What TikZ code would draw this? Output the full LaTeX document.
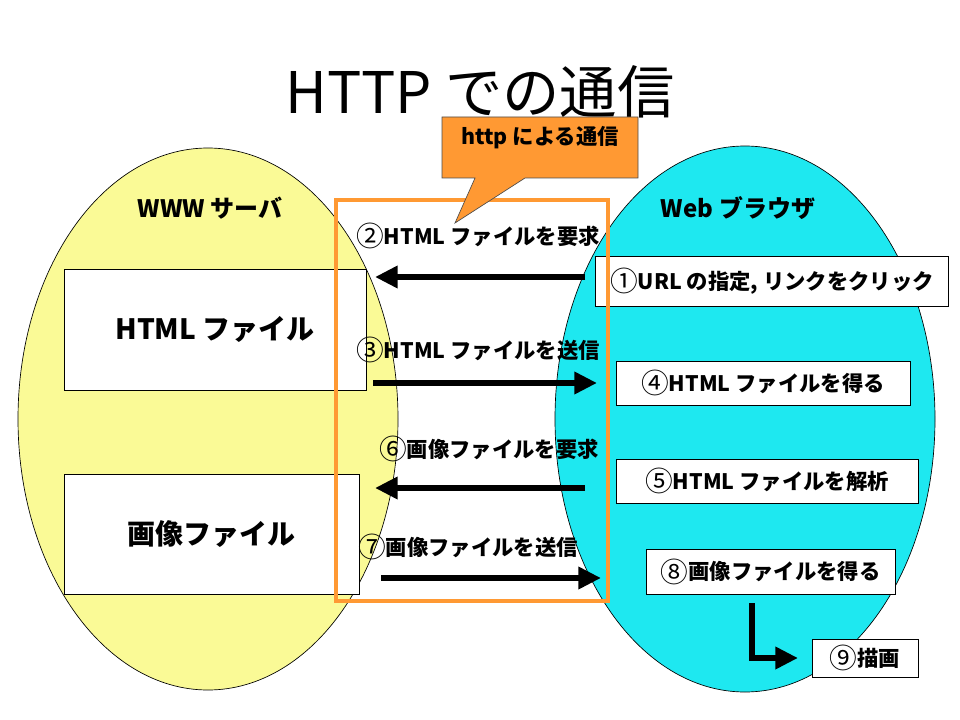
\documentclass[tikz,border=0pt]{standalone}
\usepackage{fontspec}
\setmainfont{Noto Sans CJK JP}
\usetikzlibrary{arrows.meta}
\definecolor{srvyellow}{RGB}{250,250,150}
\definecolor{brwcyan}{RGB}{30,232,240}
\definecolor{httporange}{RGB}{255,153,51}
\newcommand\cnum[1]{\raisebox{-.1em}{\scalebox{1.3}{\mdseries#1}}}
\begin{document}
\begin{tikzpicture}[x=.75pt,y=-.75pt,
    box/.style={draw,fill=white,line width=.6pt,inner sep=0pt,font=\fontsize{16}{18}\selectfont\bfseries},
    lbl/.style={font=\fontsize{16}{18}\selectfont\bfseries},
    msg/.style={line width=5pt,-{Triangle[length=17pt,width=16pt]}}]
    \useasboundingbox(0,0)rectangle(960,720);
    % the two sides
    \draw[fill=srvyellow,line width=.5pt](208,419)ellipse[x radius=190,y radius=271];
    \draw[fill=brwcyan,line width=.5pt](745,419)ellipse[x radius=190,y radius=273];
    \node(title)at(480,92){\fontsize{43}{48}\selectfont HTTP での通信};
    \node[font=\fontsize{18}{20}\selectfont\bfseries](server)at(210,208){WWW サーバ};
    \node[font=\fontsize{18}{20}\selectfont\bfseries](browser)at(738,208){Web ブラウザ};
    % files on the server
    \node[box,minimum width=226.5pt,minimum height=90.75pt,font=\fontsize{21}{24}\selectfont\bfseries](html)at(215,329.5){HTML ファイル};
    \node[box,minimum width=221.25pt,minimum height=90pt,font=\fontsize{21}{24}\selectfont\bfseries](image)at(211.5,534){画像ファイル};
    % steps in the browser
    \node[box,minimum width=264.75pt,minimum height=37.5pt](url)at(772,281){\cnum{①}URL の指定, リンクをクリック};
    \node[box,minimum width=220.5pt,minimum height=33pt](gethtml)at(763,383){\cnum{④}HTML ファイルを得る};
    \node[box,minimum width=226.5pt,minimum height=33pt](parse)at(767,481){\cnum{⑤}HTML ファイルを解析};
    \node[box,minimum width=186.75pt,minimum height=33.75pt](getimg)at(770.5,571.5){\cnum{⑧}画像ファイルを得る};
    \node[box,minimum width=79.5pt,minimum height=28.5pt](render)at(865,658){\cnum{⑨}描画};
    % http frame
    \draw[httporange,line width=2.5pt](336,200)rectangle(608,601);
    \node[lbl](reqhtml)at(478,236){\cnum{②}HTML ファイルを要求};
    \node[lbl](sendhtml)at(478,350){\cnum{③}HTML ファイルを送信};
    \node[lbl](reqimg)at(489,449){\cnum{⑥}画像ファイルを要求};
    \node[lbl](sendimg)at(468,547){\cnum{⑦}画像ファイルを送信};
    \coordinate(a1)at(585,277);\coordinate(b1)at(375,277);
    \coordinate(a2)at(373,383);\coordinate(b2)at(597,383);
    \coordinate(a3)at(585,488);\coordinate(b3)at(375,488);
    \coordinate(a4)at(381,578);\coordinate(b4)at(601,578);
    \coordinate(a5)at(752,603);\coordinate(b5)at(798,658);
    \draw[msg](a1)--(b1);
    \draw[msg](a2)--(b2);
    \draw[msg](a3)--(b3);
    \draw[msg](a4)--(b4);
    \draw[msg](a5)|-(b5);
    % callout
    \draw[fill=httporange,draw=black!70,line width=.5pt](442,117)--(638,117)--(638,178)--(525,178)--(455,223)--(475,178)--(442,178)--cycle;
    \node[font=\fontsize{16}{18}\selectfont\bfseries](callout)at(540,138){http による通信};
\end{tikzpicture}
\end{document}
